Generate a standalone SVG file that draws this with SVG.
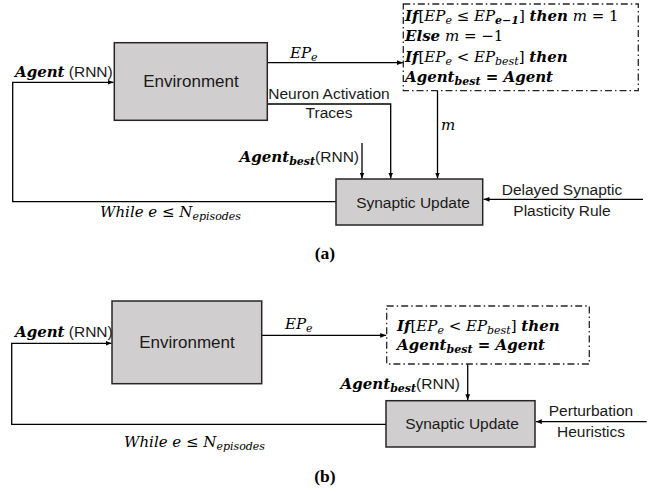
<svg xmlns="http://www.w3.org/2000/svg" width="662" height="492" viewBox="0 0 662 492">
<style>
.box{fill:#d0cece;stroke:#262626;stroke-width:1.5}
.dash{fill:#fff;stroke:#262626;stroke-width:1.3;stroke-dasharray:7 3 1.5 3}
.conn{fill:none;stroke:#000;stroke-width:1.3}
.lbl{font-family:"Liberation Sans",Arial,sans-serif;font-size:15.5px;fill:#1a1a1a}
.big{font-size:17px}
.m{font-family:"DejaVu Serif",serif;font-style:italic;font-size:15px;fill:#000}
.b{font-weight:bold}
.u{font-style:normal}
.s{font-size:11px}
.cap{font-family:"Liberation Serif",serif;font-weight:bold;font-size:17.5px;fill:#000}
</style>
<defs>
<marker id="ah" viewBox="0 0 10 10" refX="10" refY="5" markerWidth="6" markerHeight="6" orient="auto" markerUnits="userSpaceOnUse">
<path d="M0,1 L10,5 L0,9 z" fill="#000"/>
</marker>
</defs>

<g id="connectors">
<!-- (a) -->
<path class="conn" d="M336,201.7 H12.7 V82.3 H113.5" marker-end="url(#ah)"/>
<path class="conn" d="M267.3,62.7 H403" marker-end="url(#ah)"/>
<path class="conn" d="M267.3,104 H390.7 V178.5" marker-end="url(#ah)"/>
<path class="conn" d="M437.5,90.7 V178.5" marker-end="url(#ah)"/>
<path class="conn" d="M362,143 V178.5" marker-end="url(#ah)"/>
<path class="conn" d="M643,199.3 H483.5" marker-end="url(#ah)"/>
<!-- (b) -->
<path class="conn" d="M386,424.3 H11.7 V343.3 H111.5" marker-end="url(#ah)"/>
<path class="conn" d="M261.7,335.3 H386.2" marker-end="url(#ah)"/>
<path class="conn" d="M467.7,364 V400.2" marker-end="url(#ah)"/>
<path class="conn" d="M646.7,421.7 H535.8" marker-end="url(#ah)"/>
</g>

<!-- (a) nodes -->
<g id="env-a">
<rect class="box" x="114.3" y="42.7" width="153" height="77.6"/>
<text class="lbl big" x="191" y="87" text-anchor="middle">Environment</text>
</g>
<g id="rule-a">
<rect class="dash" x="403.3" y="4" width="235" height="86.7"/>
<text class="m" x="405" y="21"><tspan class="b">If</tspan><tspan class="u">[</tspan>EP<tspan class="s" dy="3">e</tspan><tspan class="u" dy="-3"> ≤ </tspan>EP<tspan class="s b" dy="3">e−1</tspan><tspan class="u" dy="-3">] </tspan><tspan class="b">then</tspan> m <tspan class="u">= 1</tspan></text>
<text class="m" x="405" y="41"><tspan class="b">Else</tspan> m <tspan class="u">= −1</tspan></text>
<text class="m" x="405" y="61.5"><tspan class="b">If</tspan><tspan class="u">[</tspan>EP<tspan class="s" dy="3">e</tspan><tspan class="u" dy="-3"> &lt; </tspan>EP<tspan class="s" dy="3">best</tspan><tspan class="u" dy="-3">] </tspan><tspan class="b">then</tspan></text>
<text class="m b" x="405" y="81.5">Agent<tspan class="s" dy="3">best</tspan><tspan class="u" dy="-3"> = </tspan>Agent</text>
</g>
<g id="syn-a">
<rect class="box" x="336" y="179" width="146.7" height="46"/>
<text class="lbl" x="413" y="208" text-anchor="middle">Synaptic Update</text>
</g>
<g id="labels-a">
<text x="15" y="76.7"><tspan class="m b" font-size="16">Agent</tspan><tspan class="lbl"> (RNN)</tspan></text>
<text class="m" x="290" y="58">EP<tspan class="s" dy="3">e</tspan></text>
<text class="lbl" x="329" y="99" text-anchor="middle">Neuron Activation</text>
<text class="lbl" x="329" y="118" text-anchor="middle">Traces</text>
<text class="m" x="441" y="130">m</text>
<text x="359" y="161.7" text-anchor="end"><tspan class="m b" font-size="16">Agent</tspan><tspan class="m b s" dy="3">best</tspan><tspan class="lbl" dy="-3">(RNN)</tspan></text>
<text class="lbl" x="562" y="195" text-anchor="middle">Delayed Synaptic</text>
<text class="lbl" x="562" y="216" text-anchor="middle">Plasticity Rule</text>
<text class="m" x="100" y="216.7">While e <tspan class="u">≤</tspan> N<tspan class="s" dy="3">episodes</tspan></text>
<text class="cap" x="325" y="259" text-anchor="middle">(a)</text>
</g>

<!-- (b) nodes -->
<g id="env-b">
<rect class="box" x="112" y="301" width="149.7" height="82.7"/>
<text class="lbl big" x="187" y="348" text-anchor="middle">Environment</text>
</g>
<g id="rule-b">
<rect class="dash" x="386.7" y="306" width="202.6" height="58"/>
<text class="m" x="397" y="331"><tspan class="b">If</tspan><tspan class="u">[</tspan>EP<tspan class="s" dy="3">e</tspan><tspan class="u" dy="-3"> &lt; </tspan>EP<tspan class="s" dy="3">best</tspan><tspan class="u" dy="-3">] </tspan><tspan class="b">then</tspan></text>
<text class="m b" x="397" y="350">Agent<tspan class="s" dy="3">best</tspan><tspan class="u" dy="-3"> = </tspan>Agent</text>
</g>
<g id="syn-b">
<rect class="box" x="386" y="400.7" width="149" height="46.3"/>
<text class="lbl" x="462" y="429" text-anchor="middle">Synaptic Update</text>
</g>
<g id="labels-b">
<text x="15" y="337.3"><tspan class="m b" font-size="16">Agent</tspan><tspan class="lbl"> (RNN)</tspan></text>
<text class="m" x="285" y="329">EP<tspan class="s" dy="3">e</tspan></text>
<text x="460" y="389.3" text-anchor="end"><tspan class="m b" font-size="16">Agent</tspan><tspan class="m b s" dy="3">best</tspan><tspan class="lbl" dy="-3">(RNN)</tspan></text>
<text class="lbl" x="591" y="416" text-anchor="middle">Perturbation</text>
<text class="lbl" x="591" y="437" text-anchor="middle">Heuristics</text>
<text class="m" x="124" y="447.3">While e <tspan class="u">≤</tspan> N<tspan class="s" dy="3">episodes</tspan></text>
<text class="cap" x="325" y="482" text-anchor="middle">(b)</text>
</g>
</svg>
